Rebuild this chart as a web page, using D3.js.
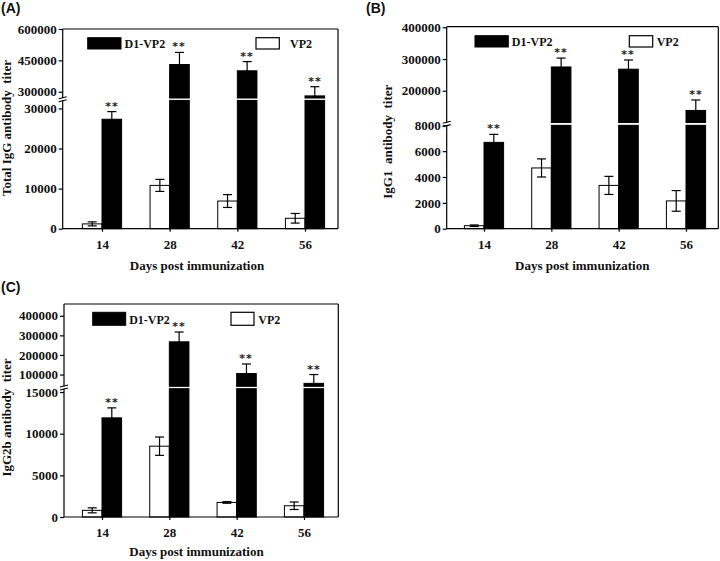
<!DOCTYPE html>
<html><head><meta charset="utf-8">
<script src="https://cdn.jsdelivr.net/npm/d3@7"></script>
<style>
body{margin:0;background:#fff}
svg{display:block}
text{font-family:"Liberation Serif","Times New Roman",serif;fill:#111}
</style>
</head><body>
<svg id="chart" width="720" height="561"></svg>
<script>
// ---------- DATA ----------
const days = ["14", "28", "42", "56"];
const seriesNames = ["D1-VP2", "VP2"];

// (A) Total IgG
const totalIgG_D1 = [27300, 430000, 400000, 280000];
const totalIgG_D1_err = [1900, 58000, 44000, 44000];
const totalIgG_VP2 = [1200, 10800, 6900, 2600];
const totalIgG_VP2_err = [500, 1500, 1600, 1200];
const totalIgG_ticksLow = [0, 10000, 20000, 30000];
const totalIgG_ticksUp = [300000, 450000, 600000];

// (B) IgG1
const igg1_D1 = [6680, 275000, 268000, 138000];
const igg1_D1_err = [620, 28000, 29000, 33000];
const igg1_VP2 = [230, 4700, 3350, 2150];
const igg1_VP2_err = [60, 700, 700, 800];
const igg1_ticksLow = [0, 2000, 4000, 6000, 8000];
const igg1_ticksUp = [200000, 300000, 400000];

// (C) IgG2b
const igg2b_D1 = [11900, 267000, 105000, 55000];
const igg2b_D1_err = [1200, 50000, 49000, 45000];
const igg2b_VP2 = [800, 8500, 1750, 1350];
const igg2b_VP2_err = [300, 1100, 100, 450];
const igg2b_ticksLow = [0, 5000, 10000, 15000];
const igg2b_ticksUp = [100000, 200000, 300000, 400000];

const signif = ["**", "**", "**", "**"];

// ---------- LAYOUT ----------
const panels = [
  {title: "(A)", tx: 1, ty: 13, yLabel: "Total IgG antibody  titer",
   d1: totalIgG_D1, d1e: totalIgG_D1_err, vp: totalIgG_VP2, vpe: totalIgG_VP2_err,
   ticksLow: totalIgG_ticksLow, ticksUp: totalIgG_ticksUp,
   left: 62.7, right: 338, top: 29, bottom: 228.7,
   lowDom: [0, 32000], lowTop: 100.4, upDom: [270000, 600000], upBottom: 98, upTop: 29,
   xRange: [102, 305], ylx: 10.5, yly: 128, xlx: 197, xly: 270, xtY: 249,
   leg: {bx: 87.7, wx: 256, wtx: 290, y: 37.7, h: 11.3, w1: 33.3, w2: 23.3, ty: 48}},
  {title: "(B)", tx: 366, ty: 12.5, yLabel: "IgG1  antibody  titer",
   d1: igg1_D1, d1e: igg1_D1_err, vp: igg1_VP2, vpe: igg1_VP2_err,
   ticksLow: igg1_ticksLow, ticksUp: igg1_ticksUp,
   left: 446.7, right: 718.3, top: 26.7, bottom: 228.7,
   lowDom: [0, 8000], lowTop: 125.3, upDom: [100000, 400000], upBottom: 122.5, upTop: 27.3,
   xRange: [484, 686], ylx: 392, yly: 141.7, xlx: 582.3, xly: 270, xtY: 249,
   leg: {bx: 475, wx: 629.3, wtx: 656.7, y: 35.7, h: 11.3, w1: 33.3, w2: 23.4, ty: 46.3}},
  {title: "(C)", tx: 1, ty: 292, yLabel: "IgG2b antibody  titer",
   d1: igg2b_D1, d1e: igg2b_D1_err, vp: igg2b_VP2, vpe: igg2b_VP2_err,
   ticksLow: igg2b_ticksLow, ticksUp: igg2b_ticksUp,
   left: 64, right: 338.3, top: 304, bottom: 517,
   lowDom: [0, 15400], lowTop: 388.7, upDom: [40000, 460000], upBottom: 386.3, upTop: 304,
   xRange: [102, 304], ylx: 10.5, yly: 417.5, xlx: 196.5, xly: 555.5, xtY: 538.5,
   leg: {bx: 92.7, wx: 231, wtx: 258.3, y: 312.3, h: 13, w1: 33, w2: 23, ty: 324}}
];

const svg = d3.select("#chart");
const barW = 19.6, capW = 4.5;

panels.forEach(p => {
  const g = svg.append("g");
  const low = d3.scaleLinear().domain(p.lowDom).range([p.bottom, p.lowTop]);
  const up = d3.scaleLinear().domain(p.upDom).range([p.upBottom, p.upTop]);
  const x = d3.scalePoint().domain(days).range(p.xRange);
  const lowMax = p.lowDom[1], upMin = p.upDom[0];

  function pieces(a, b) {
    const out = [];
    if (a < lowMax) out.push([low(Math.max(a, 0)), low(Math.min(b, lowMax))]);
    if (b > upMin) out.push([up(Math.max(a, upMin)), up(b)]);
    return out;
  }
  function yAt(v) {
    if (v <= lowMax) return low(v);
    if (v >= upMin) return up(v);
    return null;
  }

  // Bars
  const series = [
    {vals: p.vp, errs: p.vpe, fill: "#fff", off: -barW},
    {vals: p.d1, errs: p.d1e, fill: "#000", off: 0}
  ];
  series.forEach(s => {
    days.forEach((d, i) => {
      const x0 = x(d) + s.off;
      pieces(0, s.vals[i]).forEach(([yb, yt]) => {
        g.append("rect").attr("x", x0).attr("y", yt).attr("width", barW)
          .attr("height", Math.max(0, yb - yt)).attr("fill", s.fill)
          .attr("stroke", "#000").attr("stroke-width", 1);
      });
      const cx = x0 + barW / 2;
      const lo = s.vals[i] - s.errs[i], hi = s.vals[i] + s.errs[i];
      pieces(lo, hi).forEach(([yb, yt]) => {
        g.append("line").attr("x1", cx).attr("x2", cx).attr("y1", yb).attr("y2", yt)
          .attr("stroke", "#000").attr("stroke-width", 1.2);
      });
      [lo, hi].forEach(v => {
        const yy = yAt(v);
        if (yy !== null) g.append("line").attr("x1", cx - capW).attr("x2", cx + capW)
          .attr("y1", yy).attr("y2", yy).attr("stroke", "#000").attr("stroke-width", 1.2);
      });
    });
  });

  // significance marks
  days.forEach((d, i) => {
    const hi = p.d1[i] + p.d1e[i];
    g.append("text").attr("x", Math.round(x(d) + barW / 2)).attr("y", Math.round(yAt(hi) - 2))
      .attr("text-anchor", "middle")
      .style("font-family", '"DejaVu Sans", sans-serif')
      .style("font-size", "11px").style("font-weight", "bold").style("letter-spacing", "1px")
      .style("fill", "#222").text(signif[i]);
  });

  // Frame
  const fr = [[p.left, p.top, p.right, p.top], [p.right, p.top, p.right, p.bottom],
              [p.left, p.bottom, p.right, p.bottom],
              [p.left, p.bottom, p.left, p.lowTop], [p.left, p.upBottom, p.left, p.top]];
  fr.forEach(l => g.append("line").attr("x1", l[0]).attr("y1", l[1]).attr("x2", l[2]).attr("y2", l[3])
    .attr("stroke", "#000").attr("stroke-width", 1.2));
  [p.lowTop + 0.3, p.upBottom - 0.3].forEach(yy => {
    g.append("line").attr("x1", p.left - 4).attr("x2", p.left + 4)
      .attr("y1", yy + 1).attr("y2", yy - 1).attr("stroke", "#000").attr("stroke-width", 1.1);
  });

  // Y axes
  const fmt = d3.format("d");
  const yl = g.append("g").attr("transform", `translate(${p.left},0)`)
    .call(d3.axisLeft(low).tickValues(p.ticksLow).tickFormat(fmt).tickSize(4).tickPadding(2));
  const yu = g.append("g").attr("transform", `translate(${p.left},0)`)
    .call(d3.axisLeft(up).tickValues(p.ticksUp).tickFormat(fmt).tickSize(4).tickPadding(2));
  [yl, yu].forEach(a => {
    a.select(".domain").remove();
    a.selectAll("line").attr("stroke", "#000").attr("stroke-width", 1.2);
    a.selectAll("text").style("font-family", '"Liberation Serif","Times New Roman",serif')
      .style("font-size", "13px").style("font-weight", "bold").attr("fill", "#111");
  });

  // X axis
  const xa = g.append("g").attr("transform", `translate(0,${p.bottom})`)
    .call(d3.axisBottom(x).tickSize(3).tickPadding(8));
  xa.select(".domain").remove();
  xa.selectAll("line").attr("stroke", "#000").attr("stroke-width", 1.2);
  xa.selectAll("text").style("font-family", '"Liberation Serif","Times New Roman",serif')
    .style("font-size", "13px").style("font-weight", "bold").attr("fill", "#111");

  // Axis labels
  g.append("text").attr("x", p.xlx).attr("y", p.xly).attr("text-anchor", "middle")
    .style("font-size", "13px").style("font-weight", "bold").text("Days post immunization");
  g.append("text").attr("transform", `translate(${p.ylx},${p.yly}) rotate(-90)`)
    .attr("text-anchor", "middle").style("font-size", "13px").style("font-weight", "bold")
    .style("white-space", "pre").text(p.yLabel);

  // Title
  g.append("text").attr("x", p.tx).attr("y", p.ty)
    .style("font-family", "Arial, 'Liberation Sans', sans-serif").style("font-size", "14px")
    .style("font-weight", "bold").text(p.title);

  // Legend
  const L = p.leg;
  g.append("rect").attr("x", L.bx).attr("y", L.y).attr("width", L.w1).attr("height", L.h)
    .attr("fill", "#000").attr("stroke", "#000");
  g.append("text").attr("x", L.bx + L.w1 + 3.5).attr("y", L.ty).style("font-size", "12px")
    .style("font-weight", "bold").text(seriesNames[0]);
  g.append("rect").attr("x", L.wx).attr("y", L.y).attr("width", L.w2).attr("height", L.h)
    .attr("fill", "#fff").attr("stroke", "#000").attr("stroke-width", 1.2);
  g.append("text").attr("x", L.wtx).attr("y", L.ty).style("font-size", "12px")
    .style("font-weight", "bold").text(seriesNames[1]);
});
</script>
</body></html>
